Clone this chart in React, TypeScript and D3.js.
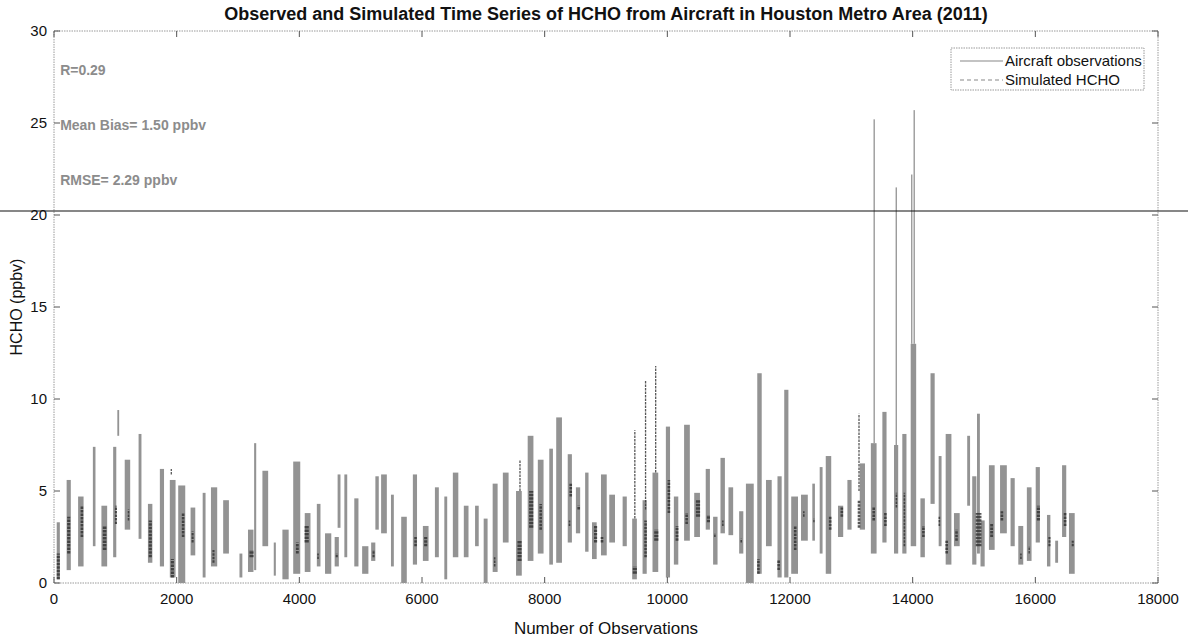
import * as d3 from "d3";
import { useEffect, useRef } from "react";

// flight-leg streaks: [first obs, last obs, low ppbv, high ppbv]
const obsBursts: [number, number, number, number][] = [
  [40, 100, 0.2, 3.3], [200, 280, 0.7, 5.6], [385, 490, 0.9, 4.7], [630, 680, 2.0, 7.4],
  [765, 875, 0.9, 4.2], [960, 1020, 1.4, 7.4], [1030, 1065, 8.0, 9.4], [1145, 1250, 2.9, 6.7],
  [1375, 1430, 2.4, 8.1], [1525, 1610, 1.1, 4.3], [1720, 1800, 0.9, 6.2], [1880, 1990, 0.3, 5.6],
  [2015, 2150, 0.0, 5.3], [2220, 2310, 1.5, 4.1], [2420, 2475, 0.3, 4.9], [2550, 2670, 0.9, 5.2],
  [2750, 2860, 1.6, 4.5], [3020, 3075, 0.3, 1.6], [3155, 3260, 0.6, 2.9], [3260, 3300, 0.7, 7.6],
  [3390, 3500, 2.0, 6.1], [3580, 3620, 0.4, 2.2], [3715, 3835, 0.2, 2.9], [3890, 4025, 0.5, 6.6],
  [4080, 4190, 0.6, 3.8], [4280, 4350, 0.9, 4.3], [4410, 4530, 0.5, 2.7], [4570, 4650, 0.9, 2.5],
  [4620, 4675, 3.0, 5.9], [4730, 4785, 1.4, 5.9], [4890, 4970, 0.9, 4.6], [5015, 5135, 0.5, 2.0],
  [5165, 5245, 1.2, 2.2], [5235, 5300, 2.9, 5.8], [5325, 5435, 2.7, 5.9], [5490, 5545, 0.9, 4.8],
  [5653, 5760, 0.0, 3.6], [5845, 5925, 1.0, 5.9], [6006, 6115, 1.2, 3.1], [6205, 6280, 1.4, 5.2],
  [6360, 6415, 0.2, 4.7], [6495, 6600, 1.4, 6.0], [6675, 6765, 1.4, 4.2], [6860, 6930, 2.0, 4.2],
  [7000, 7075, 0.0, 3.5], [7145, 7240, 0.6, 5.4], [7310, 7420, 2.2, 6.0], [7525, 7635, 0.4, 5.0],
  [7715, 7825, 1.2, 8.0], [7880, 7990, 1.6, 6.7], [8070, 8140, 1.0, 7.3], [8180, 8290, 1.1, 9.0],
  [8370, 8450, 2.2, 7.0], [8503, 8585, 2.7, 5.2], [8655, 8720, 1.7, 6.0], [8765, 8855, 1.3, 3.3],
  [8910, 9020, 1.5, 5.9], [9045, 9155, 2.2, 4.8], [9265, 9345, 2.0, 4.7], [9420, 9510, 0.2, 3.5],
  [9590, 9670, 0.5, 4.5], [9750, 9860, 0.6, 6.0], [9970, 10050, 0.3, 8.5], [10100, 10185, 1.0, 4.7],
  [10265, 10375, 2.3, 8.6], [10430, 10540, 2.5, 4.9], [10620, 10700, 2.9, 6.2], [10740, 10825, 1.0, 3.6],
  [10860, 10945, 2.7, 6.8], [10990, 11080, 2.6, 5.2], [11165, 11245, 1.6, 3.9], [11270, 11420, 0.0, 5.4],
  [11460, 11545, 0.5, 11.4], [11600, 11710, 2.0, 5.6], [11790, 11870, 0.3, 5.8], [11900, 11980, 0.3, 10.5],
  [12010, 12140, 0.5, 4.7], [12170, 12300, 2.3, 4.8], [12360, 12410, 2.3, 5.4], [12480, 12535, 1.6, 6.3],
  [12575, 12680, 0.5, 6.9], [12775, 12875, 2.5, 4.2], [12930, 13010, 2.9, 5.6], [13130, 13230, 2.9, 6.5],
  [13310, 13420, 1.6, 7.6], [13360, 13385, 7.6, 25.2], [13500, 13580, 2.2, 9.3], [13690, 13770, 1.6, 7.5],
  [13720, 13745, 7.5, 21.5], [13825, 13905, 1.6, 8.1], [13960, 14065, 2.0, 13.0], [13975, 13995, 13.0, 22.2],
  [14015, 14035, 13.0, 25.7], [14120, 14205, 1.4, 4.6], [14285, 14365, 4.3, 11.4], [14420, 14475, 2.0, 6.9],
  [14530, 14640, 1.0, 8.1], [14665, 14775, 2.0, 3.8], [14885, 14940, 4.2, 8.0], [14965, 15045, 1.0, 5.8],
  [15045, 15100, 1.6, 9.2], [15100, 15180, 0.9, 3.4], [15235, 15345, 1.8, 6.4], [15415, 15545, 2.7, 6.4],
  [15590, 15670, 2.0, 5.7], [15715, 15810, 1.0, 3.1], [15855, 15945, 1.2, 5.2], [16000, 16080, 2.2, 6.3],
  [16185, 16250, 0.9, 3.7], [16320, 16375, 1.1, 2.3], [16430, 16510, 2.5, 6.4], [16540, 16650, 0.5, 3.8],
];

// simulated HCHO (dashed, darker) over the same legs
const simBursts: [number, number, number, number][] = [
  [40, 100, 0.2, 1.6], [210, 270, 1.6, 3.6], [430, 480, 2.5, 4.2], [790, 860, 1.8, 3.1],
  [990, 1030, 3.2, 4.2], [1200, 1230, 3.4, 4.0], [1540, 1600, 1.4, 3.4], [1900, 1960, 0.3, 1.3],
  [1905, 1920, 5.9, 6.2], [2080, 2130, 2.5, 3.8], [2240, 2280, 2.2, 2.8], [2580, 2620, 1.1, 1.8],
  [3180, 3260, 1.4, 1.8], [3940, 3995, 1.6, 2.2], [4080, 4160, 2.2, 3.1], [4290, 4320, 1.3, 1.6],
  [4590, 4630, 1.4, 1.6], [5190, 5230, 1.4, 1.8], [5870, 5920, 2.0, 2.5], [6030, 6090, 2.0, 2.5],
  [7170, 7200, 0.9, 1.4], [7550, 7630, 1.2, 2.3], [7590, 7605, 5.0, 6.7], [7740, 7820, 3.0, 5.0],
  [7910, 7960, 2.9, 4.3], [8400, 8450, 4.7, 5.4], [8390, 8420, 3.1, 3.4], [8530, 8580, 4.0, 4.2],
  [8800, 8860, 2.2, 3.1], [8910, 8960, 2.2, 2.5], [9430, 9510, 0.5, 0.9], [9460, 9480, 3.5, 8.3],
  [9620, 9670, 1.4, 3.4], [9635, 9655, 4.0, 11.0], [9780, 9860, 2.3, 2.9], [9800, 9820, 6.0, 11.8],
  [10000, 10050, 3.8, 5.6], [10130, 10185, 2.3, 3.1], [10290, 10340, 3.2, 3.8], [10460, 10540, 3.6, 4.5],
  [10640, 10700, 3.3, 3.7], [10760, 10790, 2.5, 2.7], [10890, 10920, 3.1, 3.4], [11190, 11220, 2.2, 2.4],
  [11460, 11510, 0.5, 1.3], [11790, 11840, 0.7, 1.25], [12060, 12110, 1.8, 3.1], [12210, 12240, 3.6, 3.9],
  [12380, 12400, 3.3, 3.5], [12630, 12680, 2.9, 3.6], [12820, 12870, 3.6, 4.1], [13100, 13150, 3.0, 4.5],
  [13115, 13135, 5.0, 9.2], [13340, 13390, 3.4, 4.1], [13530, 13580, 3.1, 3.8], [13720, 13750, 4.1, 4.9],
  [13850, 13880, 2.0, 4.9], [14150, 14200, 2.5, 3.1], [14420, 14450, 3.1, 3.6], [14530, 14580, 1.6, 2.3],
  [14690, 14740, 2.3, 2.9], [15020, 15130, 2.0, 3.8], [15260, 15315, 2.5, 3.2], [15430, 15480, 3.4, 3.9],
  [15750, 15780, 1.3, 1.6], [15890, 15910, 1.6, 2.0], [16020, 16080, 3.4, 4.2], [16210, 16250, 2.0, 2.5],
  [16460, 16510, 3.1, 3.8], [16590, 16630, 2.0, 2.3],
];

const xTickValues = [0, 2000, 4000, 6000, 8000, 10000, 12000, 14000, 16000, 18000];
const yTickValues = [0, 5, 10, 15, 20, 25, 30];
const statLines = ["R=0.29", "Mean Bias= 1.50 ppbv", "RMSE= 2.29 ppbv"];
const legendLabels = ["Aircraft observations", "Simulated HCHO"];

const FONT = "'Liberation Sans', Arial, sans-serif";

const App = () => {
  const chartRef = useRef<SVGSVGElement | null>(null);

  useEffect(() => {
    drawChart();
  }, []);

  const drawChart = () => {
    if (!chartRef.current) return;
    const svg = d3.select(chartRef.current);
    svg.selectAll("*").remove();

    const left = 54, right = 1158, top = 31, bottom = 583;
    const x = d3.scaleLinear().domain([0, 18000]).range([left, right]);
    const y = d3.scaleLinear().domain([0, 30]).range([bottom, top]);
    const barW = (d: [number, number, number, number]) => Math.max((x(d[1]) - x(d[0])) * 0.85, 1.3);

    // title
    svg
      .append("text")
      .attr("x", (left + right) / 2)
      .attr("y", 20)
      .attr("text-anchor", "middle")
      .style("font-family", FONT)
      .style("font-size", "18px")
      .style("font-weight", "bold")
      .style("fill", "#111")
      .text("Observed and Simulated Time Series of HCHO from Aircraft in Houston Metro Area (2011)");

    // observations
    svg
      .append("g")
      .selectAll("rect")
      .data(obsBursts)
      .join("rect")
      .attr("x", (d) => x((d[0] + d[1]) / 2) - barW(d) / 2)
      .attr("width", barW)
      .attr("y", (d) => y(d[3]))
      .attr("height", (d) => y(d[2]) - y(d[3]))
      .attr("fill", "#939393");

    // simulated
    svg
      .append("g")
      .selectAll("line")
      .data(simBursts)
      .join("line")
      .attr("x1", (d) => x((d[0] + d[1]) / 2))
      .attr("x2", (d) => x((d[0] + d[1]) / 2))
      .attr("y1", (d) => y(d[2]))
      .attr("y2", (d) => y(d[3]))
      .attr("stroke", "#2e2e2e")
      .attr("stroke-opacity", 0.8)
      .attr("stroke-width", barW)
      .attr("stroke-dasharray", "2.5,1");

    // axes frame
    svg
      .append("rect")
      .attr("x", left)
      .attr("y", top)
      .attr("width", right - left)
      .attr("height", bottom - top)
      .attr("fill", "none")
      .attr("stroke", "#9a9a9a")
      .attr("stroke-dasharray", "1.5,1");

    const ticks = svg.append("g").attr("stroke", "#555").attr("stroke-width", 1);
    xTickValues.forEach((v) => {
      ticks.append("line").attr("x1", x(v)).attr("x2", x(v)).attr("y1", bottom).attr("y2", bottom - 6);
      ticks.append("line").attr("x1", x(v)).attr("x2", x(v)).attr("y1", top).attr("y2", top + 6);
    });
    yTickValues.forEach((v) => {
      ticks.append("line").attr("x1", left).attr("x2", left + 6).attr("y1", y(v)).attr("y2", y(v));
      ticks.append("line").attr("x1", right).attr("x2", right - 6).attr("y1", y(v)).attr("y2", y(v));
    });

    svg
      .append("g")
      .selectAll("text")
      .data(xTickValues)
      .join("text")
      .attr("x", (d) => x(d))
      .attr("y", bottom + 21)
      .attr("text-anchor", "middle")
      .style("font-family", FONT)
      .style("font-size", "15px")
      .style("fill", "#111")
      .text((d) => d);

    svg
      .append("g")
      .selectAll("text")
      .data(yTickValues)
      .join("text")
      .attr("x", left - 7)
      .attr("y", (d) => y(d))
      .attr("dy", "0.35em")
      .attr("text-anchor", "end")
      .style("font-family", FONT)
      .style("font-size", "15px")
      .style("fill", "#111")
      .text((d) => d);

    // axis labels
    svg
      .append("text")
      .attr("x", (left + right) / 2)
      .attr("y", 634)
      .attr("text-anchor", "middle")
      .style("font-family", FONT)
      .style("font-size", "17px")
      .style("fill", "#111")
      .text("Number of Observations");

    svg
      .append("text")
      .attr("transform", `translate(22,${(top + bottom) / 2}) rotate(-90)`)
      .attr("text-anchor", "middle")
      .style("font-family", FONT)
      .style("font-size", "16px")
      .style("fill", "#111")
      .text("HCHO (ppbv)");

    // statistics
    svg
      .append("g")
      .selectAll("text")
      .data(statLines)
      .join("text")
      .attr("x", x(100))
      .attr("y", (d, i) => y(27.9 - i * 3.0))
      .attr("dy", "0.35em")
      .style("font-family", FONT)
      .style("font-size", "14px")
      .style("font-weight", "bold")
      .style("fill", "#8c8c8c")
      .text((d) => d);

    // legend
    const lg = svg.append("g").attr("transform", "translate(951,48)");
    lg.append("rect")
      .attr("width", 193)
      .attr("height", 42)
      .attr("fill", "#fff")
      .attr("stroke", "#999")
      .attr("stroke-dasharray", "1.5,1");
    legendLabels.forEach((label, i) => {
      const ly = 13 + i * 19;
      lg.append("line")
        .attr("x1", 9)
        .attr("x2", 52)
        .attr("y1", ly)
        .attr("y2", ly)
        .attr("stroke", "#888")
        .attr("stroke-width", 1.2)
        .attr("stroke-dasharray", i === 0 ? null : "4,3");
      lg.append("text")
        .attr("x", 54)
        .attr("y", ly)
        .attr("dy", "0.35em")
        .style("font-family", FONT)
        .style("font-size", "15px")
        .style("fill", "#111")
        .text(label);
    });

    // scan artefact: full-width rule across the figure
    svg
      .append("line")
      .attr("x1", 0)
      .attr("x2", 1188)
      .attr("y1", 211)
      .attr("y2", 211)
      .attr("stroke", "#111")
      .attr("stroke-width", 1.2);
  };

  return (
    <svg
      ref={chartRef}
      width={1188}
      height={640}
      style={{ position: "absolute", left: 0, top: 0, background: "#fff" }}
    />
  );
};

export default App;
